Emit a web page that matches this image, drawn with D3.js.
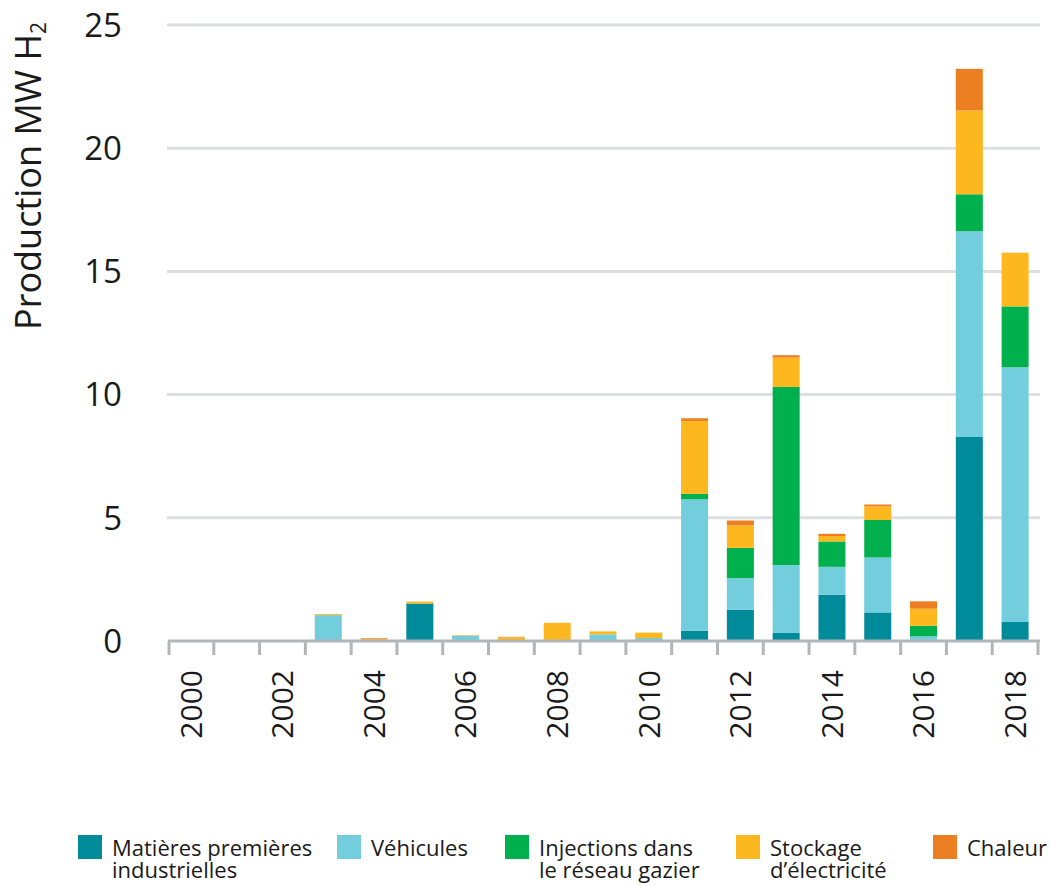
<!DOCTYPE html>
<html>
<head>
<meta charset="utf-8">
<script src="https://cdn.jsdelivr.net/npm/d3@7"></script>
<style>
    body { margin: 0; background: #fff; }
    svg text { font-family: "Open Sans", "Noto Sans", sans-serif; fill: #1a1a1a; }
</style>
</head>
<body>
<div id="chart"></div>
<script>
(function(){
    "use strict";

    //==========================================================================================
    // Data
    //==========================================================================================
    var years = ["2000","2001","2002","2003","2004","2005","2006","2007","2008","2009",
                 "2010","2011","2012","2013","2014","2015","2016","2017","2018"];
    var matieres   = [0, 0, 0, 0,    0,    1.52, 0,    0,    0,    0,    0,    0.42, 1.27, 0.34, 1.88, 1.16, 0,    8.28, 0.77];
    var vehicules  = [0, 0, 0, 1.05, 0,    0,    0.22, 0,    0,    0.27, 0.12, 5.33, 1.28, 2.74, 1.13, 2.23, 0.19, 8.35, 10.34];
    var injections = [0, 0, 0, 0,    0,    0,    0,    0,    0,    0,    0,    0.22, 1.23, 7.23, 1.03, 1.52, 0.43, 1.50, 2.47];
    var stockage   = [0, 0, 0, 0.04, 0.08, 0.08, 0.02, 0.15, 0.74, 0.12, 0.22, 2.96, 0.91, 1.19, 0.22, 0.55, 0.69, 3.40, 2.18];
    var chaleur    = [0, 0, 0, 0,    0.03, 0,    0,    0.02, 0,    0,    0,    0.11, 0.20, 0.10, 0.09, 0.08, 0.30, 1.69, 0];
    var yTicks = [0, 5, 10, 15, 20, 25];
    var xLabels = ["2000","2002","2004","2006","2008","2010","2012","2014","2016","2018"];

    var series = [
        { key: "matieres",   label: ["Matières premières", "industrielles"],   color: "#008b9b", values: matieres },
        { key: "vehicules",  label: ["Véhicules"],                             color: "#72cddd", values: vehicules },
        { key: "injections", label: ["Injections dans", "le réseau gazier"],   color: "#00b04c", values: injections },
        { key: "stockage",   label: ["Stockage", "d’électricité"],             color: "#fdb71f", values: stockage },
        { key: "chaleur",    label: ["Chaleur"],                               color: "#ec7f22", values: chaleur }
    ];
    var legendX = [78, 337, 505, 736, 933];

    //==========================================================================================
    // Layout
    //==========================================================================================
    var width = 1050, height = 886;
    var margin = { top: 25, right: 12, bottom: 245, left: 168 };

    var svg = d3.select("#chart").append("svg")
        .attr("width", width)
        .attr("height", height);

    var rows = years.map(function(y, i) {
        var r = { year: y };
        series.forEach(function(s) { r[s.key] = s.values[i]; });
        return r;
    });

    var stack = d3.stack().keys(series.map(function(s) { return s.key; }));
    var stacked = stack(rows);

    var x = d3.scaleBand()
        .domain(years)
        .range([margin.left, 1038])
        .paddingInner(0.41)
        .paddingOuter(0.205);

    var y = d3.scaleLinear()
        .domain([0, 25])
        .range([641, margin.top]);

    //------------------------------------------------------------------------------------------
    // Gridlines
    //------------------------------------------------------------------------------------------
    svg.append("g")
        .selectAll("line")
        .data(yTicks.filter(function(d) { return d > 0; }))
        .enter().append("line")
        .attr("x1", 167).attr("x2", 1040)
        .attr("y1", function(d) { return y(d); })
        .attr("y2", function(d) { return y(d); })
        .attr("stroke", "#dedfe0")
        .attr("stroke-width", 3);

    // y tick labels
    svg.append("g")
        .selectAll("text")
        .data(yTicks)
        .enter().append("text")
        .attr("x", 122)
        .attr("y", function(d) { return y(d); })
        .attr("dy", "0.36em")
        .attr("text-anchor", "end")
        .style("font-size", "33px")
        .text(function(d) { return d; });

    // y title
    var title = svg.append("text")
        .attr("transform", "translate(41,176) rotate(-90)")
        .attr("text-anchor", "middle")
        .style("font-size", "36px");
    title.append("tspan").text("Production MW H");
    title.append("tspan").attr("dy", "0.25em").style("font-size", "21px").text("2");

    //------------------------------------------------------------------------------------------
    // Bars
    //------------------------------------------------------------------------------------------
    var colorOf = {};
    series.forEach(function(s) { colorOf[s.key] = s.color; });

    svg.append("g")
        .selectAll("g")
        .data(stacked)
        .enter().append("g")
        .attr("fill", function(d) { return colorOf[d.key]; })
        .selectAll("rect")
        .data(function(d) { return d; })
        .enter().append("rect")
        .attr("x", function(d) { return x(d.data.year); })
        .attr("width", x.bandwidth())
        .attr("y", function(d) { return y(d[1]); })
        .attr("height", function(d) { return Math.max(0, y(d[0]) - y(d[1])); });

    //------------------------------------------------------------------------------------------
    // X axis
    //------------------------------------------------------------------------------------------
    var axisColor = "#b3b5b7";
    svg.append("line")
        .attr("x1", 168).attr("x2", 1040)
        .attr("y1", 641).attr("y2", 641)
        .attr("stroke", axisColor)
        .attr("stroke-width", 3);

    var step = x.step();
    var edges = years.map(function(yr) { return x(yr) - x.paddingInner() * step / 2; });
    edges.push(1038);
    edges[0] = 169;

    svg.append("g")
        .selectAll("line")
        .data(edges)
        .enter().append("line")
        .attr("x1", function(d) { return d; })
        .attr("x2", function(d) { return d; })
        .attr("y1", 641).attr("y2", 655)
        .attr("stroke", axisColor)
        .attr("stroke-width", 3);

    svg.append("g")
        .selectAll("text")
        .data(xLabels)
        .enter().append("text")
        .attr("transform", function(d) {
            return "translate(" + (x(d) + x.bandwidth() / 2) + ",670) rotate(-90)";
        })
        .attr("text-anchor", "end")
        .attr("dy", "0.36em")
        .style("font-size", "30px")
        .text(function(d) { return d; });

    //------------------------------------------------------------------------------------------
    // Legend
    //------------------------------------------------------------------------------------------
    var legend = svg.append("g")
        .selectAll("g")
        .data(series)
        .enter().append("g")
        .attr("transform", function(d, i) { return "translate(" + legendX[i] + ",835)"; });

    legend.append("rect")
        .attr("width", 24).attr("height", 24)
        .attr("fill", function(d) { return d.color; });

    legend.append("text")
        .attr("x", 34)
        .style("font-size", "22px")
        .selectAll("tspan")
        .data(function(d) { return d.label; })
        .enter().append("tspan")
        .attr("x", 34)
        .attr("y", function(d, i) { return 21 + i * 22; })
        .text(function(d) { return d; });

})();
</script>
</body>
</html>
